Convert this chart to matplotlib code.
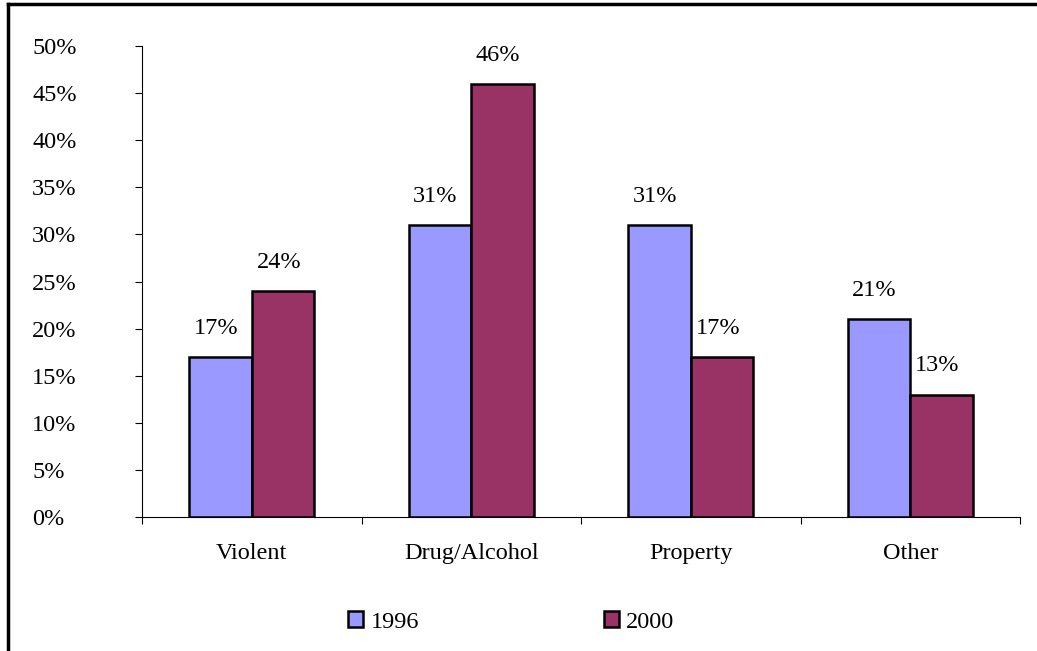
import numpy as np
import matplotlib.pyplot as plt
from matplotlib.lines import Line2D

categories = ['Violent', 'Drug/Alcohol', 'Property', 'Other']
years = ['1996', '2000']
vals_1996 = [17, 31, 31, 21]
vals_2000 = [24, 46, 17, 13]
colors = ['#9999FF', '#993366']

plt.rcParams['font.family'] = ['Liberation Serif', 'DejaVu Serif']
fs = 17.5

fig = plt.figure(figsize=(10.37, 6.51), dpi=100)
ax = fig.add_axes([142 / 1037, 1 - 517 / 651, (1020 - 142) / 1037, (517 - 46) / 651])

x = np.arange(len(categories))
w = 1 / 3.5
for i, (vals, c, lab) in enumerate(zip([vals_1996, vals_2000], colors, years)):
    bars = ax.bar(x + (i - 0.5) * w, vals, w, color=c, edgecolor='black',
                  linewidth=1.8, label=lab)
    for b, v in zip(bars, vals):
        ax.annotate(f'{v}%', (b.get_x() + b.get_width() / 2 - 0.02, v),
                    xytext=(0, 13), textcoords='offset points',
                    ha='center', va='bottom', fontsize=fs)

ax.set_xlim(-0.5, len(categories) - 0.5)
ax.set_ylim(0, 50)
ax.set_yticks(range(0, 51, 5))
ax.set_yticklabels([f'{t}%' for t in range(0, 51, 5)], fontsize=fs)
ax.set_xticks(np.arange(-0.5, len(categories), 1))
ax.set_xticklabels([])
ax.set_xticks(x, minor=True)
ax.set_xticklabels(categories, minor=True, fontsize=fs)
ax.tick_params(axis='x', which='minor', length=0, pad=19)
ax.tick_params(axis='x', which='major', length=5, direction='out')
ax.tick_params(axis='y', length=5, pad=74)
for lbl in ax.get_yticklabels():
    lbl.set_horizontalalignment('left')
for s in ['top', 'right']:
    ax.spines[s].set_visible(False)

fig.legend(loc='center', bbox_to_anchor=(0.493, 1 - 622 / 651), ncol=2,
           frameon=False, fontsize=fs, handlelength=0.62, handleheight=0.62,
           handletextpad=0.3, columnspacing=7.6)

# outer frame
fig.add_artist(Line2D([8 / 1037, 1], [1 - 4 / 651, 1 - 4 / 651],
                      transform=fig.transFigure, color='black', lw=2.5))
fig.add_artist(Line2D([8 / 1037, 8 / 1037], [0, 1 - 4 / 651],
                      transform=fig.transFigure, color='black', lw=2.5))

fig.savefig('out.png', dpi=100)
